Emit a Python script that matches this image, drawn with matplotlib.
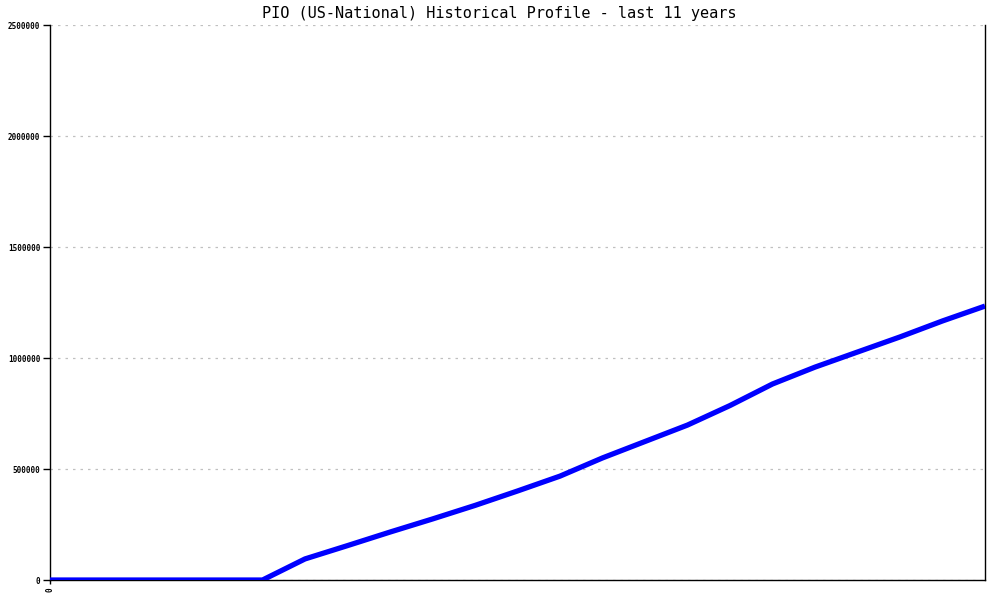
import matplotlib
matplotlib.use("Agg")
import matplotlib.pyplot as plt

# semi-annual samples over the last 11 years
periods = list(range(23))
counts = [0, 0, 0, 0, 0, 0, 95000, 155000, 216000, 275000, 336000, 401000,
          468000, 550000, 624000, 698000, 786000, 883000, 959000, 1027000,
          1095000, 1167000, 1234000]
y_ticks = [0, 500000, 1000000, 1500000, 2000000, 2500000]
x_ticks = [0]
x_labels = ["0"]

plt.rcParams["font.family"] = "DejaVu Sans Mono"

fig = plt.figure(figsize=(10, 6), dpi=100)
ax = fig.add_axes([0.05, 0.0333, 0.935, 0.925])

ax.plot(periods, counts, color="#0000ff", linewidth=3.8, solid_capstyle="butt", zorder=3)

ax.set_xlim(0, 22)
ax.set_ylim(0, 2500000)
ax.set_yticks(y_ticks)
ax.set_yticklabels([str(v) for v in y_ticks], fontsize=5.5, fontweight="bold")
ax.set_xticks(x_ticks)
ax.set_xticklabels(x_labels, fontsize=5.5, rotation=90, fontweight="bold")
ax.tick_params(axis="y", length=5, width=1, pad=2)
ax.tick_params(axis="x", length=3, width=1, pad=2)

ax.grid(axis="y", color="#c0c0c0", linestyle=(0, (2, 4)), linewidth=0.9)
ax.set_axisbelow(True)
ax.spines["top"].set_visible(False)
for s in ["left", "right", "bottom"]:
    ax.spines[s].set_linewidth(1)
    ax.spines[s].set_color("black")

# title is centred on the whole image, not the plot area
fig.text(0.499, 0.978, "PIO (US-National) Historical Profile - last 11 years",
         fontsize=11, ha="center", va="center")

fig.savefig("out.png", dpi=100)
